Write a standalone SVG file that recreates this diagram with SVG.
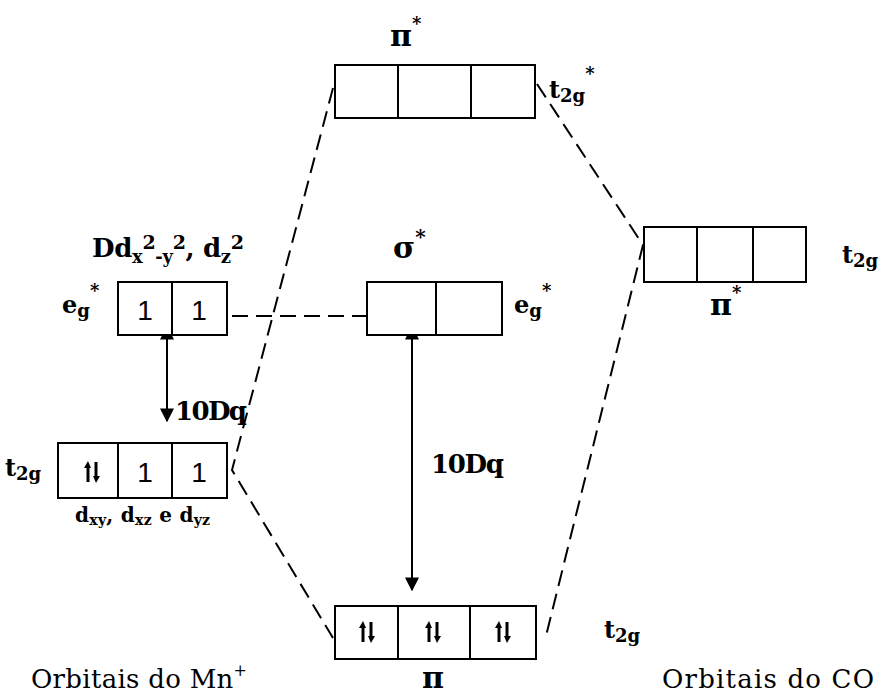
<svg xmlns="http://www.w3.org/2000/svg" width="880" height="696" viewBox="0 0 880 696">
<defs>
<style>
.box{fill:#fff;stroke:#000;stroke-width:2}
.div{stroke:#000;stroke-width:2}
.dash{fill:none;stroke:#000;stroke-width:2;stroke-dasharray:16 8}
.lbl{font-family:"DejaVu Serif","Liberation Serif","Times New Roman",serif;font-weight:bold;fill:#000}
.one{font-family:"Liberation Sans",Arial,sans-serif;font-size:28px;fill:#000;text-anchor:middle}
.cap{font-family:"DejaVu Serif","Liberation Serif",serif;font-size:26px;fill:#000}
.arr{stroke:#000;stroke-width:2;fill:none}
</style>
<marker id="ah" viewBox="0 0 10 10" refX="9" refY="5" markerWidth="7" markerHeight="7" orient="auto-start-reverse">
<path d="M0,0 L10,5 L0,10 z" fill="#000"/>
</marker>
<g id="pair">
<path d="M-4,10 V-6" stroke="#000" stroke-width="3"/>
<path d="M-8,-4 L-4,-11 L-1,-4 z" fill="#000"/>
<path d="M4,-10 V6" stroke="#000" stroke-width="3"/>
<path d="M1,4 L4,11 L8,4 z" fill="#000"/>
</g>
</defs>
<rect width="880" height="696" fill="#fff"/>

<g id="connectors">
<path class="dash" d="M333,88 L232,470 L333,638"/>
<path class="dash" d="M537,84 L643,245 L545,640"/>
<path class="dash" d="M232,316 L367,316"/>
<line class="arr" x1="167" y1="327" x2="167" y2="421" marker-start="url(#ah)" marker-end="url(#ah)"/>
<line class="arr" x1="412" y1="327" x2="412" y2="590" marker-start="url(#ah)" marker-end="url(#ah)"/>
</g>

<g id="top-pistar">
<rect class="box" x="335" y="65" width="200" height="53"/>
<line class="div" x1="398" y1="65" x2="398" y2="118"/>
<line class="div" x1="471" y1="65" x2="471" y2="118"/>
<text class="lbl" x="390" y="46" font-size="30">π<tspan font-size="18" dy="-16">*</tspan></text>
<text class="lbl" x="549" y="98" font-size="24">t<tspan font-size="18" dy="4">2g</tspan><tspan font-size="18" dy="-22">*</tspan></text>
</g>

<g id="right-pistar">
<rect class="box" x="644" y="227" width="162" height="55"/>
<line class="div" x1="697" y1="227" x2="697" y2="282"/>
<line class="div" x1="753" y1="227" x2="753" y2="282"/>
<text class="lbl" x="842" y="263" font-size="24">t<tspan font-size="18" dy="4">2g</tspan></text>
<text class="lbl" x="710" y="315" font-size="30">π<tspan font-size="18" dy="-16">*</tspan></text>
</g>

<g id="sigmastar">
<rect class="box" x="367" y="282" width="135" height="53"/>
<line class="div" x1="436" y1="282" x2="436" y2="335"/>
<text class="lbl" x="393" y="258" font-size="30">σ<tspan font-size="20" dy="-14">*</tspan></text>
<text class="lbl" x="514" y="313" font-size="24">e<tspan font-size="18" dy="4">g</tspan><tspan font-size="18" dy="-20">*</tspan></text>
</g>

<g id="left-eg">
<rect class="box" x="118" y="282" width="109" height="53"/>
<line class="div" x1="172" y1="282" x2="172" y2="335"/>
<text class="one" x="145" y="320">1</text>
<text class="one" x="199" y="320">1</text>
<text class="lbl" x="62" y="313" font-size="24">e<tspan font-size="18" dy="4">g</tspan><tspan font-size="18" dy="-20">*</tspan></text>
<text class="lbl" x="92" y="257" font-size="26" textLength="152">Dd<tspan font-size="18" dy="6">x</tspan><tspan font-size="19" dy="-14">2</tspan><tspan font-size="18" dy="14">-y</tspan><tspan font-size="19" dy="-14">2</tspan><tspan dy="8">, d</tspan><tspan font-size="18" dy="6">z</tspan><tspan font-size="19" dy="-14">2</tspan></text>
</g>

<g id="left-t2g">
<rect class="box" x="58" y="443" width="169" height="55"/>
<line class="div" x1="118" y1="443" x2="118" y2="498"/>
<line class="div" x1="172" y1="443" x2="172" y2="498"/>
<use href="#pair" x="92" y="472"/>
<text class="one" x="145" y="482">1</text>
<text class="one" x="199" y="482">1</text>
<text class="lbl" x="5" y="476" font-size="24">t<tspan font-size="18" dy="4">2g</tspan></text>
<text class="lbl" x="75" y="522" font-size="20" textLength="135">d<tspan font-size="14" dy="3">xy</tspan><tspan dy="-3">, d</tspan><tspan font-size="14" dy="3">xz</tspan><tspan dy="-3"> e d</tspan><tspan font-size="14" dy="3">yz</tspan></text>
<text class="lbl" x="175" y="420" font-size="26" textLength="72">10Dq</text>
</g>

<g id="bottom-pi">
<rect class="box" x="335" y="606" width="201" height="53"/>
<line class="div" x1="398" y1="606" x2="398" y2="659"/>
<line class="div" x1="470" y1="606" x2="470" y2="659"/>
<use href="#pair" x="367" y="632"/>
<use href="#pair" x="433" y="632"/>
<use href="#pair" x="503" y="632"/>
<text class="lbl" x="422" y="688" font-size="30">π</text>
<text class="lbl" x="604" y="638" font-size="24">t<tspan font-size="18" dy="4">2g</tspan></text>
</g>

<text class="lbl" x="431" y="473" font-size="26" textLength="73">10Dq</text>
<text class="cap" x="31" y="688" textLength="216">Orbitais do Mn<tspan font-size="16" dy="-12">+</tspan></text>
<text class="cap" x="662" y="688" textLength="212">Orbitais do CO</text>
</svg>
